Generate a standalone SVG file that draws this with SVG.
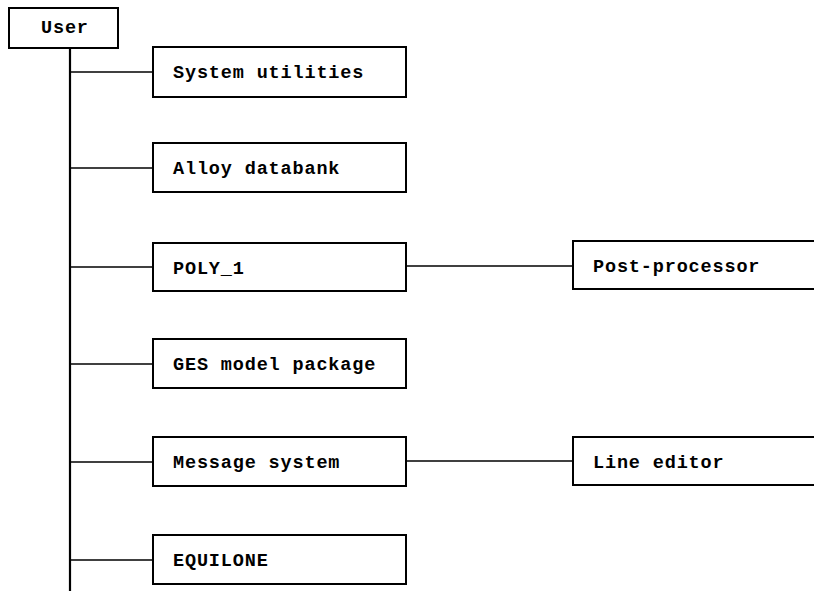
<svg xmlns="http://www.w3.org/2000/svg" width="814" height="591" viewBox="0 0 814 591">
<style>
.box{fill:#fff;stroke:#000;stroke-width:2}
.lbl{font-family:"Liberation Mono","DejaVu Sans Mono",monospace;font-weight:bold;font-size:18.5px;fill:#000;letter-spacing:0.85px}
.ln{stroke:#000;stroke-width:1.6;fill:none}
.trunk{stroke:#000;stroke-width:2.2;fill:none}
</style>
<rect width="814" height="591" fill="#fff"/>
<g id="connectors">
<line class="trunk" x1="70" y1="48" x2="70" y2="591"/>
<line class="ln" x1="70" y1="72" x2="153" y2="72"/>
<line class="ln" x1="70" y1="168" x2="153" y2="168"/>
<line class="ln" x1="70" y1="267" x2="153" y2="267"/>
<line class="ln" x1="70" y1="364" x2="153" y2="364"/>
<line class="ln" x1="70" y1="462" x2="153" y2="462"/>
<line class="ln" x1="70" y1="560" x2="153" y2="560"/>
<line class="ln" x1="406" y1="266" x2="573" y2="266"/>
<line class="ln" x1="406" y1="461" x2="573" y2="461"/>
</g>
<g id="user"><rect class="box" x="9" y="8" width="109" height="40"/><text class="lbl" x="41" y="33">User</text></g>
<g id="system-utilities"><rect class="box" x="153" y="47" width="253" height="50"/><text class="lbl" x="173" y="78">System utilities</text></g>
<g id="alloy-databank"><rect class="box" x="153" y="143" width="253" height="49"/><text class="lbl" x="173" y="174">Alloy databank</text></g>
<g id="poly1"><rect class="box" x="153" y="243" width="253" height="48"/><text class="lbl" x="173" y="274">POLY_1</text></g>
<g id="ges-model-package"><rect class="box" x="153" y="339" width="253" height="49"/><text class="lbl" x="173" y="370">GES model package</text></g>
<g id="message-system"><rect class="box" x="153" y="437" width="253" height="49"/><text class="lbl" x="173" y="468">Message system</text></g>
<g id="equilone"><rect class="box" x="153" y="535" width="253" height="49"/><text class="lbl" x="173" y="566">EQUILONE</text></g>
<g id="post-processor"><rect class="box" x="573" y="241" width="260" height="48"/><text class="lbl" x="593" y="272">Post-processor</text></g>
<g id="line-editor"><rect class="box" x="573" y="437" width="260" height="48"/><text class="lbl" x="593" y="468">Line editor</text></g>
</svg>
